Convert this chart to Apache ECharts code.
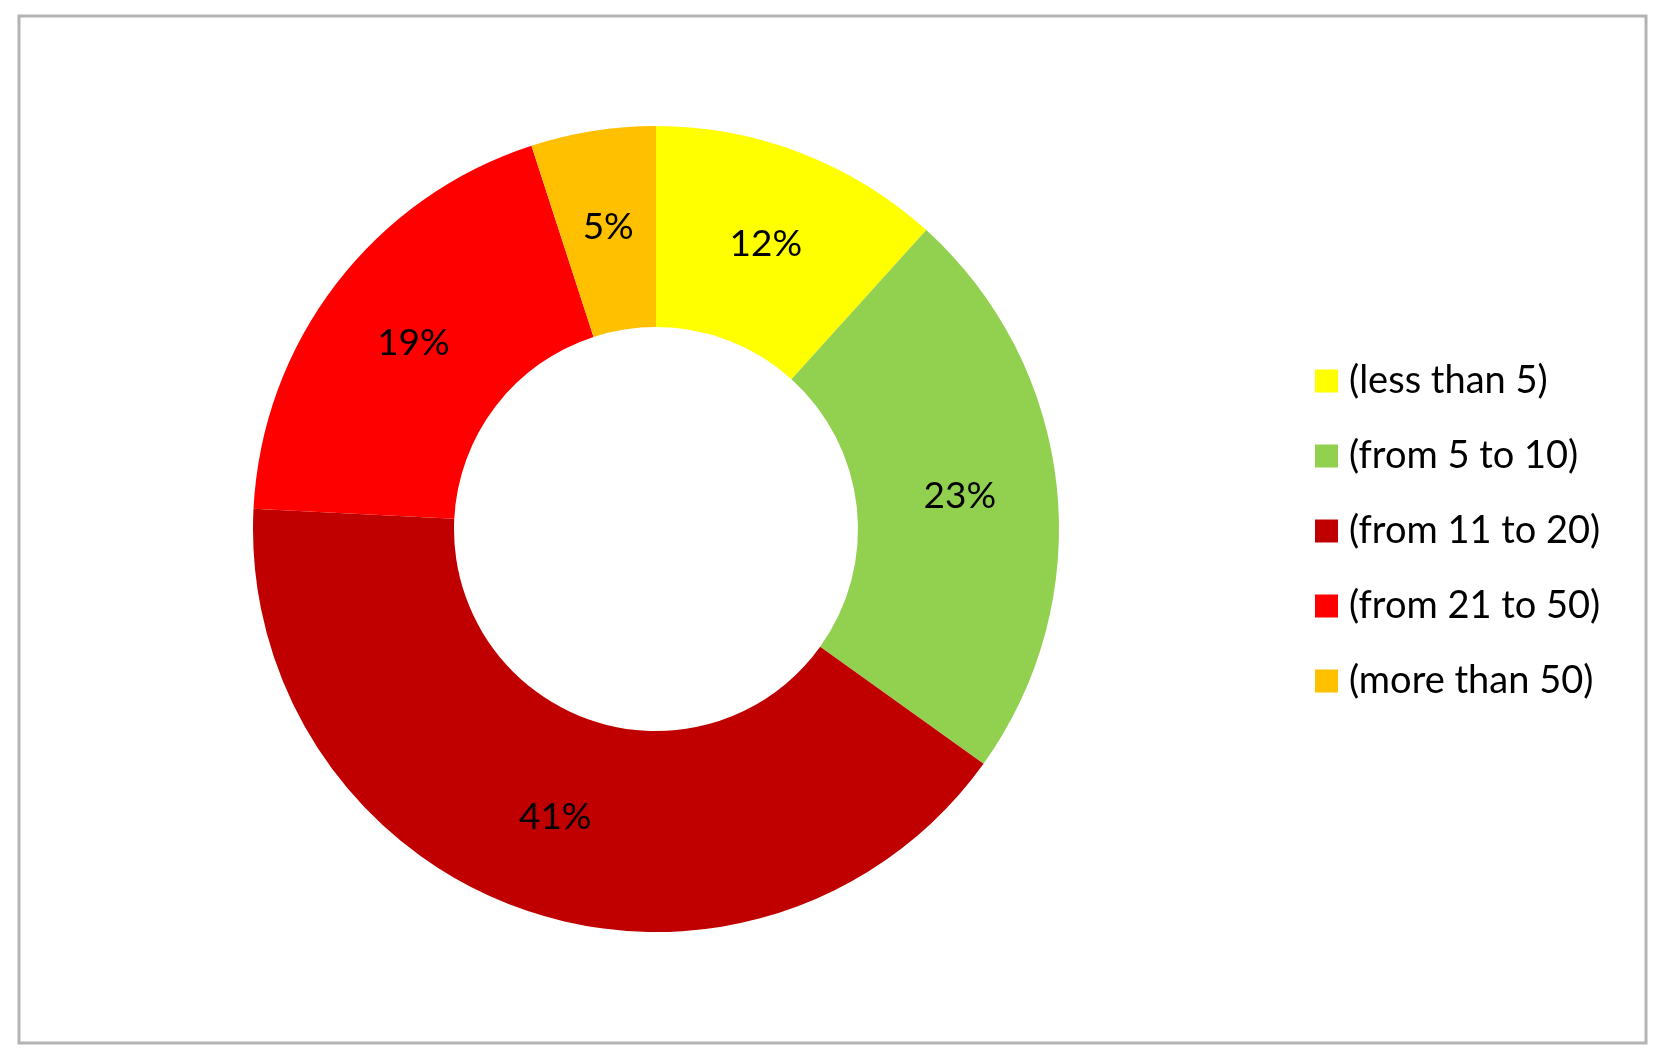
<!DOCTYPE html>
<html>
<head>
<meta charset="utf-8">
<script src="https://cdn.jsdelivr.net/npm/echarts@6/dist/echarts.min.js"></script>
<style>
  html, body { margin: 0; padding: 0; background: #fff; }
  #chart { width: 1667px; height: 1062px; }
</style>
</head>
<body>
<div id="chart"></div>
<script>
const categories = ['(less than 5)', '(from 5 to 10)', '(from 11 to 20)', '(from 21 to 50)', '(more than 50)']
// shares; labels show them rounded
const shares = [11.7, 23.2, 40.9, 19.2, 5.0]
const colors = ['#FFFF00', '#92D050', '#C00000', '#FF0000', '#FFC000']

const chart = echarts.init(document.getElementById('chart'))

chart.setOption({
  animation: false,
  color: colors,
  graphic: [{
    type: 'rect',
    shape: { x: 19, y: 16, width: 1627, height: 1027 },
    style: { fill: 'none', stroke: '#b3b3b3', lineWidth: 3 },
    silent: true,
  }],
  legend: {
    orient: 'vertical',
    left: 1315,
    top: 362,
    padding: 0,
    icon: 'rect',
    itemWidth: 23,
    itemHeight: 23,
    itemGap: 37,
    textStyle: { fontFamily: 'Lato', fontSize: 38, color: '#000', padding: [0, 0, 0, 6] },
    data: categories,
  },
  series: [{
    type: 'pie',
    center: [656, 529],
    radius: [202, 403],
    startAngle: 90,
    clockwise: true,
    avoidLabelOverlap: false,
    label: {
      show: true,
      position: 'inside',
      formatter: p => Math.round(p.value) + '%',
      fontFamily: 'Lato',
      fontSize: 37,
      color: '#000',
    },
    labelLine: { show: false },
    itemStyle: { borderWidth: 0 },
    emphasis: { disabled: true },
    data: categories.map((name, i) => ({ name, value: shares[i] })),
  }],
})
</script>
</body>
</html>
